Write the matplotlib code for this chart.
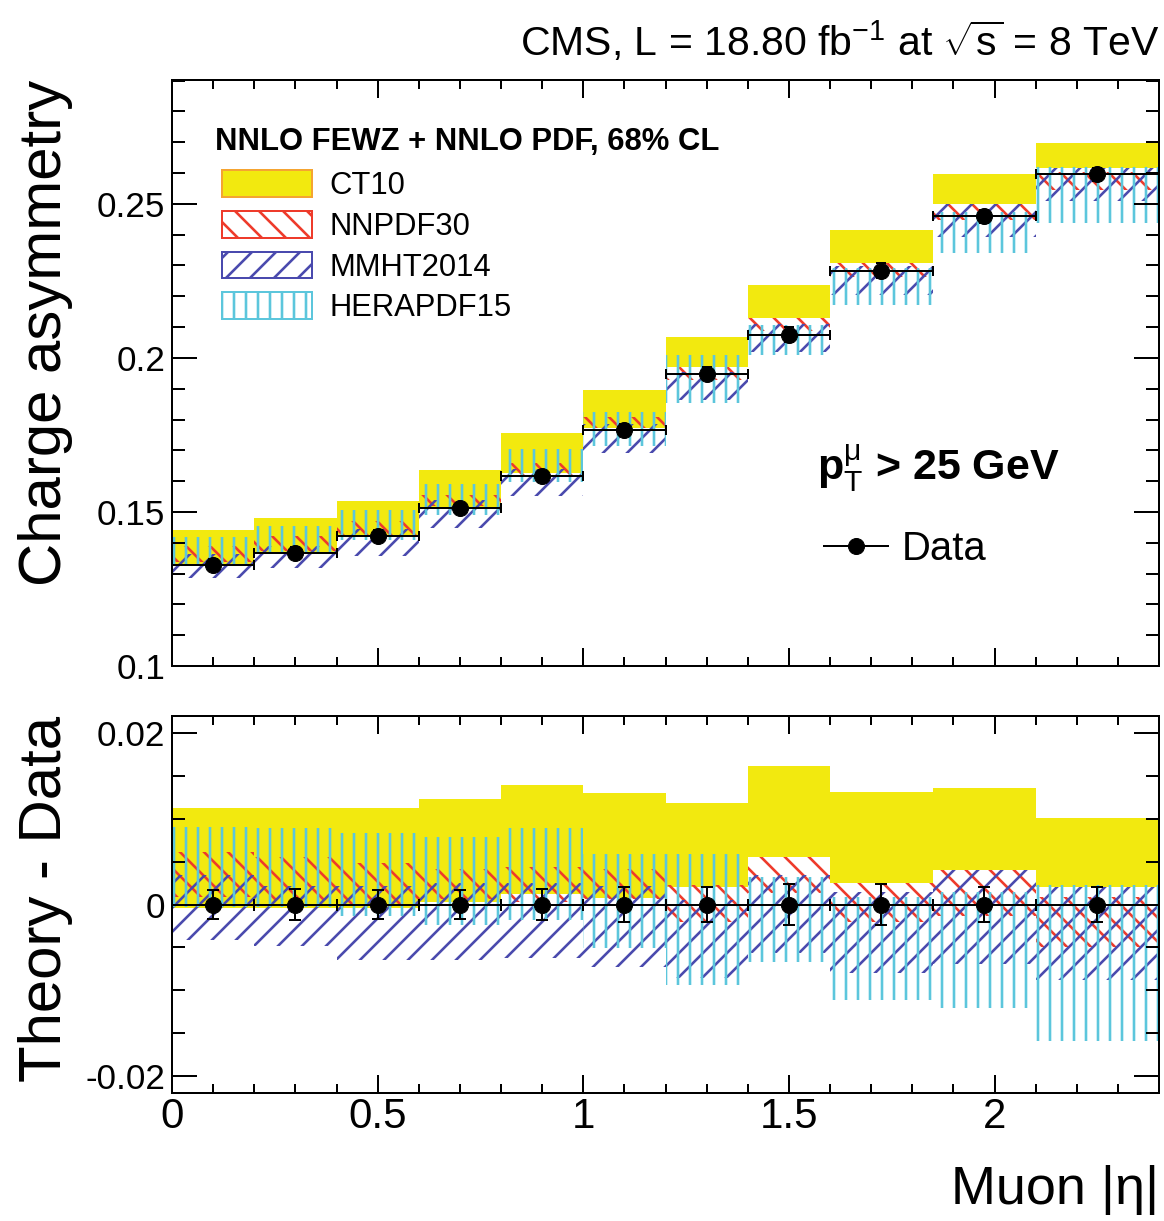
import numpy as np
import matplotlib
matplotlib.use("Agg")
import matplotlib.pyplot as plt
from matplotlib.patches import Patch
from matplotlib.lines import Line2D
from matplotlib.ticker import FixedLocator, MultipleLocator

plt.rcParams['font.family'] = ['Liberation Sans', 'DejaVu Sans']
plt.rcParams['mathtext.fontset'] = 'custom'
plt.rcParams['mathtext.rm'] = 'Liberation Sans'
plt.rcParams['mathtext.it'] = 'Liberation Sans:italic'
plt.rcParams['mathtext.bf'] = 'Liberation Sans:bold'
plt.rcParams['hatch.linewidth'] = 2.6
plt.rcParams['axes.linewidth'] = 2.0

# muon |eta| bins
edges = [0.0, 0.2, 0.4, 0.6, 0.8, 1.0, 1.2, 1.4, 1.6, 1.85, 2.1, 2.4]
eta = [0.1, 0.3, 0.5, 0.7, 0.9, 1.1, 1.3, 1.5, 1.725, 1.975, 2.25]

# measured charge asymmetry
asym = [0.1329, 0.1367, 0.1423, 0.1513, 0.1616, 0.1765,
        0.1949, 0.2075, 0.2283, 0.2460, 0.2596]
asym_err = [0.0017, 0.0018, 0.0017, 0.0017, 0.0018, 0.0020,
            0.0021, 0.0024, 0.0024, 0.0021, 0.0021]

# theory - data, 68% CL bands
ct10_lo = [-0.0004, -0.0004, -0.0004, 0.0003, 0.0012, 0.0008,
           0.0021, 0.0056, 0.0025, 0.0040, 0.0021]
ct10_hi = [0.0113, 0.0113, 0.0113, 0.0123, 0.0140, 0.0130,
           0.0118, 0.0162, 0.0131, 0.0136, 0.0101]
nnpdf_lo = [0.0009, 0.0005, 0.0000, 0.0006, 0.0003, 0.0006,
            -0.0020, 0.0013, -0.0020, -0.0014, -0.0050]
nnpdf_hi = [0.0061, 0.0056, 0.0048, 0.0042, 0.0044, 0.0042,
            0.0023, 0.0056, 0.0025, 0.0040, 0.0009]
mmht_lo = [-0.0042, -0.0048, -0.0065, -0.0065, -0.0063, -0.0073,
           -0.0086, -0.0057, -0.0080, -0.0069, -0.0088]
mmht_hi = [0.0035, 0.0022, 0.0022, 0.0025, 0.0025, 0.0022,
           0.0005, 0.0035, 0.0015, 0.0040, 0.0020]
hera_lo = [-0.0003, -0.0003, -0.0014, -0.0024, -0.0018, -0.0051,
           -0.0094, -0.0067, -0.0112, -0.0121, -0.0159]
hera_hi = [0.0091, 0.0089, 0.0083, 0.0079, 0.0089, 0.0059,
           0.0059, 0.0032, 0.0009, 0.0015, 0.0023]

top_ticks = [0.1, 0.15, 0.2, 0.25]
top_ticklabels = ["0.1", "0.15", "0.2", "0.25"]
bot_ticks = [-0.02, 0.0, 0.02]
bot_ticklabels = ["-0.02", "0", "0.02"]
x_ticks = [0, 0.5, 1, 1.5, 2]
x_ticklabels = ["0", "0.5", "1", "1.5", "2"]

yellow = '#f2e90f'
orange = '#f5a431'
red = '#ee3b2b'
blue = '#4a4aae'
cyan = '#5cc6dc'

DPI = 72
W, H = 1164, 1221
fig = plt.figure(figsize=(W / DPI, H / DPI), dpi=DPI)
ax1 = fig.add_axes([172 / W, 1 - 666 / H, 987 / W, 586 / H])
ax2 = fig.add_axes([172 / W, 1 - 1093 / H, 987 / W, 377 / H])

base = np.array(asym)
half = np.diff(edges) / 2


def draw_bands(ax, offset):
    ax.stairs(offset + np.array(ct10_hi), edges, baseline=offset + np.array(ct10_lo),
              fill=True, facecolor=yellow, edgecolor='none', linewidth=0)
    ax.stairs(offset + np.array(nnpdf_hi), edges, baseline=offset + np.array(nnpdf_lo),
              fill=True, facecolor='none', edgecolor=red, hatch='\\', linewidth=0)
    ax.stairs(offset + np.array(mmht_hi), edges, baseline=offset + np.array(mmht_lo),
              fill=True, facecolor='none', edgecolor=blue, hatch='/', linewidth=0)
    ax.stairs(offset + np.array(hera_hi), edges, baseline=offset + np.array(hera_lo),
              fill=True, facecolor='none', edgecolor=cyan, hatch='|', linewidth=0)


# top panel
draw_bands(ax1, base)
ax1.errorbar(eta, asym, xerr=half, yerr=asym_err, fmt='o', color='k', ms=16,
             elinewidth=2, capsize=5, capthick=2, zorder=5)

# bottom panel
draw_bands(ax2, np.zeros(len(asym)))
ax2.errorbar(eta, np.zeros(len(asym)), xerr=half, yerr=asym_err, fmt='o', color='k',
             ms=16, elinewidth=2, capsize=6, capthick=2, zorder=5)

for ax in (ax1, ax2):
    ax.set_xlim(0, 2.4)
    ax.xaxis.set_major_locator(FixedLocator(x_ticks))
    ax.xaxis.set_minor_locator(MultipleLocator(0.1))
    ax.tick_params(which='both', direction='in', top=True, right=True, width=2)
    ax.tick_params(axis='y', which='major', length=25, pad=7, labelsize=35)
    ax.tick_params(axis='y', which='minor', length=13)
    ax.tick_params(axis='x', which='major', length=18, pad=4, labelsize=42)
    ax.tick_params(axis='x', which='minor', length=9)

ax1.set_ylim(0.1, 0.2902)
ax1.set_yticks(top_ticks, top_ticklabels)
ax1.yaxis.set_minor_locator(MultipleLocator(0.01))
ax1.tick_params(axis='x', labelbottom=False)

ax2.set_ylim(-0.022, 0.022)
ax2.set_yticks(bot_ticks, bot_ticklabels)
ax2.yaxis.set_minor_locator(MultipleLocator(0.005))
ax2.set_xticks(x_ticks, x_ticklabels)

ax1.set_ylabel('Charge asymmetry', fontsize=60, loc='top')
ax1.yaxis.set_label_coords(-0.100, 1.0)
ax2.set_ylabel('Theory - Data', fontsize=60, loc='top')
ax2.yaxis.set_label_coords(-0.100, 1.0)
ax2.set_xlabel('Muon |η|', fontsize=54, loc='right')
ax2.xaxis.set_label_coords(1.0, -0.19)

ax1.text(1.0, 1.041, r'CMS, L = 18.80 fb$^{-1}$ at $\sqrt{\mathrm{s}}$ = 8 TeV',
         transform=ax1.transAxes, ha='right', va='baseline', fontsize=41)
ax1.text(0.653, 0.317, r'$\mathbf{p}_{\mathrm{T}}^{\mathrm{\mu}}$ > 25 GeV',
         transform=ax1.transAxes, ha='left', va='baseline', fontsize=43,
         fontweight='bold')

ax1.text(0.0435, 0.894, 'NNLO FEWZ + NNLO PDF, 68% CL', transform=ax1.transAxes,
         ha='left', va='center', fontsize=31, fontweight='bold')

handles = [Patch(facecolor=yellow, edgecolor=orange, linewidth=2),
           Patch(facecolor='white', edgecolor=red, hatch='\\', linewidth=2),
           Patch(facecolor='white', edgecolor=blue, hatch='/', linewidth=2),
           Patch(facecolor='white', edgecolor=cyan, hatch='|', linewidth=2)]
labels = ['CT10', 'NNPDF30', 'MMHT2014', 'HERAPDF15']
leg = ax1.legend(handles, labels, loc='upper left', bbox_to_anchor=(0.0506, 0.846),
                 frameon=False, fontsize=31, handlelength=2.9, handleheight=0.95,
                 handletextpad=0.58, labelspacing=0.31, borderpad=0, borderaxespad=0)
ax1.add_artist(leg)

data_handle = Line2D([], [], color='k', marker='o', ms=16, linewidth=2)
ax1.legend([data_handle], ['Data'], loc='center left', bbox_to_anchor=(0.661, 0.2),
           frameon=False, fontsize=40, handlelength=1.6, handletextpad=0.33,
           borderpad=0, borderaxespad=0, numpoints=1)

fig.savefig('out.png', dpi=DPI)
